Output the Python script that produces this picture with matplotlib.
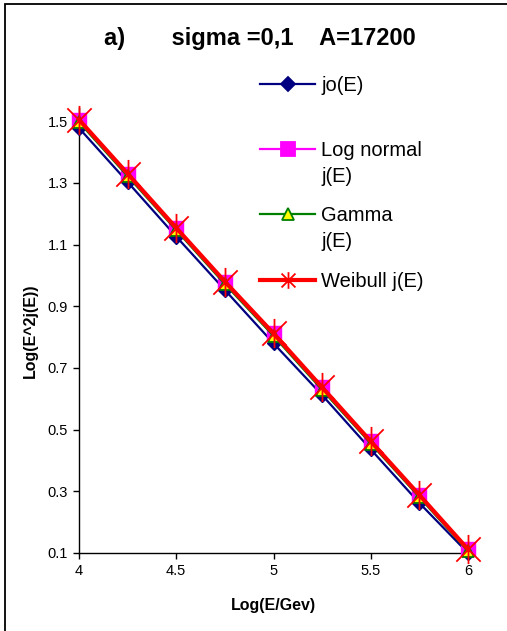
import matplotlib
matplotlib.use("Agg")
import matplotlib.pyplot as plt
from matplotlib.lines import Line2D
from matplotlib.patches import Rectangle
from matplotlib.path import Path

plt.rcParams["font.family"] = ["Liberation Sans", "DejaVu Sans"]

# log(E/GeV)
log_e = [4.0, 4.25, 4.5, 4.75, 5.0, 5.25, 5.5, 5.75, 6.0]

# log(E^2 j(E)) for each spectrum
jo_e      = [1.478, 1.303, 1.126, 0.953, 0.780, 0.612, 0.436, 0.262, 0.100]
lognormal = [1.505, 1.330, 1.154, 0.980, 0.812, 0.637, 0.462, 0.288, 0.112]
gamma     = [1.497, 1.322, 1.147, 0.972, 0.804, 0.629, 0.455, 0.281, 0.106]
weibull   = [1.505, 1.330, 1.154, 0.980, 0.812, 0.637, 0.462, 0.288, 0.112]

labels = ["jo(E)", "Log normal\nj(E)", "Gamma\nj(E)", "Weibull j(E)"]
xticks = [4, 4.5, 5, 5.5, 6]
yticks = [0.1, 0.3, 0.5, 0.7, 0.9, 1.1, 1.3, 1.5]

W, H = 507, 631
fig = plt.figure(figsize=(W / 100, H / 100), dpi=100)
ax = fig.add_axes([79 / W, 1 - 553 / H, (468 - 79) / W, (553 - 108) / H])

# excel-like star: an X with a vertical stroke
star = Path([(-1, -1), (1, 1), (-1, 1), (1, -1), (0, -1.2), (0, 1.2)],
            [Path.MOVETO, Path.LINETO] * 3)

ax.plot(log_e, jo_e, color="#000080", lw=1.6, marker="D", ms=7,
        mfc="#000080", mec="#000080", clip_on=False, zorder=3)
ax.plot(log_e, lognormal, color="#ff00ff", lw=1.6, marker="s", ms=10,
        mfc="#ff00ff", mec="#ff00ff", clip_on=False, zorder=4)
ax.plot(log_e, gamma, color="#008000", lw=1.6, marker="^", ms=8,
        mfc="#ffff00", mec="#008000", mew=1.3, clip_on=False, zorder=5)
ax.plot(log_e, weibull, color="#ff0000", lw=3.0, marker=star, ms=21,
        mfc="none", mec="#ff0000", mew=1.3, clip_on=False, zorder=6)

ax.set_xlim(4, 6)
ax.set_ylim(0.1, 1.543)
ax.set_xticks(xticks)
ax.set_xticklabels(["4", "4.5", "5", "5.5", "6"])
ax.set_yticks(yticks)
ax.set_yticklabels([f"{v:.1f}" for v in yticks])
ax.tick_params(direction="out", length=4, width=1, labelsize=10.5, pad=4)
for s in ["top", "right"]:
    ax.spines[s].set_visible(False)
for s in ["left", "bottom"]:
    ax.spines[s].set_linewidth(1.0)

ax.set_xlabel("Log(E/Gev)", fontsize=11.5, fontweight="bold", labelpad=14)
fig.text(30 / W, 1 - 331 / H, "Log(E^2j(E))", rotation=90, fontsize=11.5,
         fontweight="bold", ha="center", va="center")

fig.text(260 / W, 1 - 38 / H, "a)       sigma =0,1    A=17200", fontsize=17,
         fontweight="bold", ha="center", va="center")

# legend drawn by hand to follow the uneven spacing of the original
leg = [
    (84, "#000080", 1.6, "D", 7, "#000080", "#000080"),
    (149, "#ff00ff", 1.6, "s", 10, "#ff00ff", "#ff00ff"),
    (214, "#008000", 1.6, "^", 8, "#ffff00", "#008000"),
    (280, "#ff0000", 3.0, star, 12, "none", "#ff0000"),
]
for (yy, c, lw, m, ms, fc, ec), lab in zip(leg, labels):
    yf = 1 - yy / H
    fig.add_artist(Line2D([260 / W, 315 / W], [yf, yf], color=c, lw=lw))
    fig.add_artist(Line2D([287.5 / W], [yf], marker=m, ms=ms, mfc=fc, mec=ec,
                          mew=1.3, ls="none"))
    fig.text(321 / W, yf + 8 / H, lab, fontsize=14.5, ha="left", va="top",
             linespacing=1.45)

# outer chart frame (only top and left edges visible in the crop)
fig.add_artist(Rectangle((5 / W, -0.05), 1.2, 1.05 - 4 / H,
                         transform=fig.transFigure, fill=False,
                         edgecolor="black", lw=1.3))

fig.savefig("out.png", dpi=100)
